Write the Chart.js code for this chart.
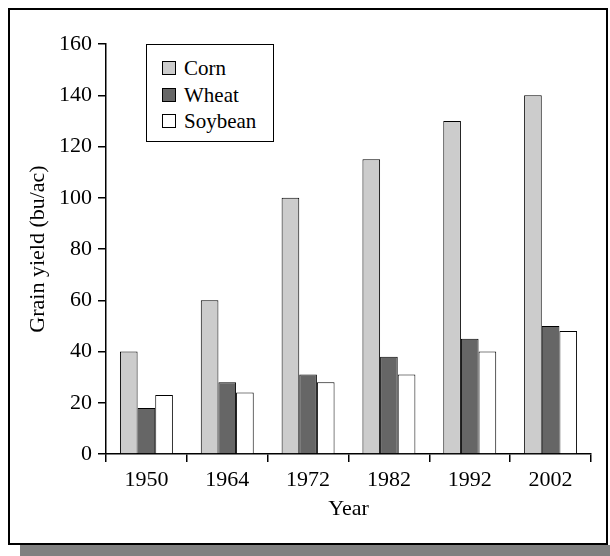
<!DOCTYPE html>
<html>
<head>
<meta charset="utf-8">
<script src="https://cdn.jsdelivr.net/npm/chart.js@4"></script>
<style>
  body { margin: 0; background: #fff; }
  #wrap { position: relative; width: 610px; height: 556px; overflow: hidden; font-family: "Liberation Serif", serif; }
  #frame { position: absolute; left: 8px; top: 8px; width: 596px; height: 533px; border: 2px solid #000; background: #fff; }
  #shadow { position: absolute; left: 20px; top: 545px; width: 590px; height: 11px; background: #808080; }
  #myChart { position: absolute; left: 0; top: 0; }
  #legend { position: absolute; left: 146px; top: 44px; width: 126px; height: 96px; border: 1px solid #000; background: #fff; }
  .item { position: absolute; left: 15px; height: 26px; line-height: 26px; font-size: 21px; color: #000; }
  .sw { position: absolute; left: 0; top: 6px; width: 12px; height: 12px; border: 1px solid #000; }
  .item span { position: absolute; left: 22px; top: 0; white-space: nowrap; }
</style>
</head>
<body>
<div id="wrap">
  <div id="shadow"></div>
  <div id="frame"></div>
  <canvas id="myChart" width="610" height="556"></canvas>
  <div id="legend"></div>
</div>
<script>
let years = ['1950', '1964', '1972', '1982', '1992', '2002'];
let corn = [40, 60, 100, 115, 130, 140];
let wheat = [18, 28, 31, 38, 45, 50];
let soybean = [23, 24, 28, 31, 40, 48];
let seriesNames = ['Corn', 'Wheat', 'Soybean'];
let seriesColors = ['#cccccc', '#666666', '#ffffff'];

let font = { family: '"Liberation Serif", serif', size: 22 };

// legend drawn as plain html, same look as the printed one
let legend = document.getElementById('legend');
seriesNames.forEach(function (name, i) {
    let row = document.createElement('div');
    row.className = 'item';
    row.style.top = (10 + i * 26.5) + 'px';
    row.innerHTML = '<div class="sw" style="background:' + seriesColors[i] + '"></div><span>' + name + '</span>';
    legend.appendChild(row);
});

let ctx = document.getElementById('myChart');

var myChart = new Chart(ctx, {
    type: 'bar',
    data: {
        labels: years,
        datasets: [corn, wheat, soybean].map(function (values, i) {
            return {
                label: seriesNames[i],
                data: values,
                backgroundColor: seriesColors[i],
                borderColor: '#000',
                borderWidth: 1,
                categoryPercentage: 0.655,
                barPercentage: 1
            };
        })
    },
    options: {
        responsive: false,
        animation: false,
        devicePixelRatio: 1,
        layout: { padding: { left: 0, top: 44, right: 19, bottom: 32 } },
        plugins: {
            legend: { display: false },
            tooltip: { enabled: false }
        },
        scales: {
            x: {
                afterFit: function (s) { s.height = 70; },
                border: { display: true, color: '#000', width: 1.5 },
                grid: { drawOnChartArea: false, drawTicks: true, tickLength: 8, color: '#000', lineWidth: 1.5 },
                ticks: { color: '#000', font: font, padding: 5, maxRotation: 0 },
                title: { display: true, text: 'Year', color: '#000', font: font, padding: { top: 0, bottom: 2 } }
            },
            y: {
                min: 0,
                max: 160,
                afterFit: function (s) { s.width = 106; },
                border: { display: true, color: '#000', width: 1.5 },
                grid: { drawOnChartArea: false, drawTicks: true, tickLength: 8, color: '#000', lineWidth: 1.5 },
                ticks: { stepSize: 20, color: '#000', font: font, padding: 6 },
                title: { display: true, text: 'Grain yield (bu/ac)', color: '#000', font: font, padding: { top: 25, bottom: 0 } }
            }
        }
    }
});
</script>
</body>
</html>
